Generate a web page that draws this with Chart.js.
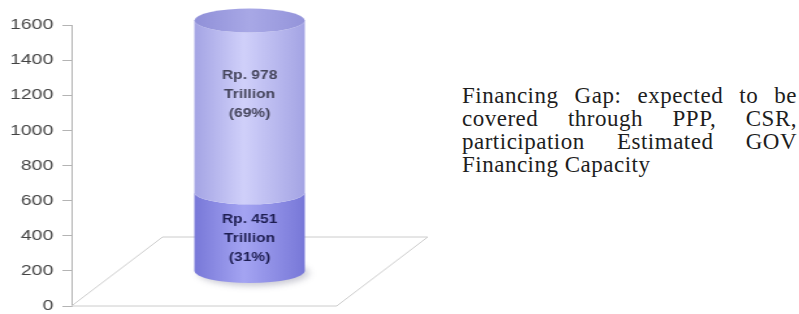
<!DOCTYPE html>
<html>
<head>
<meta charset="utf-8">
<script src="https://cdn.jsdelivr.net/npm/chart.js@4.4.1/dist/chart.umd.min.js"></script>
<style>
  html, body { margin: 0; padding: 0; background: #fff; }
  body { width: 799px; height: 314px; position: relative; overflow: hidden; }
  #wrap { position: absolute; left: 0; top: 0; width: 350px; height: 322px; transform: scaleX(1.3); transform-origin: 0 0; }
  #note { position: absolute; left: 462px; top: 84px; width: 335px; font-family: "Liberation Serif", "Times New Roman", serif; font-size: 23px; line-height: 23px; letter-spacing: 0.5px; color: #1e1e1e; }
  #note span { display: block; text-align: justify; text-align-last: justify; }
  #note span.last { text-align: left; text-align-last: left; }
</style>
</head>
<body>
<div id="wrap"><canvas id="myChart"></canvas></div>
<div id="note">
  <span>Financing Gap: expected to be</span>
  <span>covered through PPP, CSR,</span>
  <span>participation Estimated GOV</span>
  <span class="last">Financing Capacity</span>
</div>
<script>
  // data
  var categories = ['Financing'];
  var govCapacity = [451];
  var financingGap = [978];
  var segmentLabels = [
    ['Rp. 451', 'Trillion', '(31%)'],
    ['Rp. 978', 'Trillion', '(69%)']
  ];
  var yTicks = [0, 200, 400, 600, 800, 1000, 1200, 1400, 1600];

  // look of the cylinder
  var depthX = 70, depthY = 69, ry = 12;
  var edgeColors = ['#7878d8', '#a4a4e4'];
  var lightColors = ['#a4a4f2', '#d0d0fa'];
  var textColors = ['#1e1e52', '#45455c'];
  var labelShift = [7, -12];

  var cylinderPlugin = {
    id: 'cylinder',
    beforeDatasetsDraw: function(chart) {
      var a = chart.chartArea, ctx = chart.ctx;
      ctx.save();
      ctx.strokeStyle = '#cccccc';
      ctx.lineWidth = 1;
      ctx.beginPath();
      ctx.moveTo(a.left, a.bottom);
      ctx.lineTo(a.right, a.bottom);
      ctx.lineTo(a.right + depthX, a.bottom - depthY);
      ctx.lineTo(a.left + depthX, a.bottom - depthY);
      ctx.closePath();
      ctx.stroke();
      ctx.restore();
    },
    afterDatasetsDraw: function(chart) {
      var ctx = chart.ctx;
      var n = chart.data.datasets.length;
      var parts = [];
      for (var i = 0; i < n; i++) {
        var p = chart.getDatasetMeta(i).data[0].getProps(['x', 'y', 'base', 'width'], true);
        parts.push({
          cx: p.x + depthX / 2,
          rx: p.width / 2,
          top: p.y - depthY / 2,
          bot: p.base - depthY / 2
        });
      }
      ctx.save();

      // soft shadow under the base
      var b = parts[0];
      ctx.filter = 'blur(3px)';
      ctx.fillStyle = 'rgba(40,40,80,0.25)';
      ctx.beginPath();
      ctx.ellipse(b.cx + 3, b.bot + 2, b.rx, ry + 1, 0, 0, Math.PI * 2);
      ctx.fill();
      ctx.filter = 'none';

      parts.forEach(function(s, i) {
        var g = ctx.createLinearGradient(s.cx - s.rx, 0, s.cx + s.rx, 0);
        g.addColorStop(0, edgeColors[i]);
        g.addColorStop(0.45, lightColors[i]);
        g.addColorStop(1, edgeColors[i]);
        ctx.fillStyle = g;
        ctx.beginPath();
        ctx.moveTo(s.cx - s.rx, s.top);
        ctx.lineTo(s.cx - s.rx, s.bot);
        ctx.ellipse(s.cx, s.bot, s.rx, ry, 0, Math.PI, 0, true);
        ctx.lineTo(s.cx + s.rx, s.top);
        ctx.ellipse(s.cx, s.top, s.rx, ry, 0, 0, Math.PI, false);
        ctx.closePath();
        ctx.fill();
      });

      // top cap
      var t = parts[n - 1];
      var cg = ctx.createLinearGradient(t.cx - t.rx, 0, t.cx + t.rx, 0);
      cg.addColorStop(0, '#9090d8');
      cg.addColorStop(0.5, '#a8a8e6');
      cg.addColorStop(1, '#9494da');
      ctx.fillStyle = cg;
      ctx.beginPath();
      ctx.ellipse(t.cx, t.top, t.rx, ry, 0, 0, Math.PI * 2);
      ctx.fill();

      // labels inside the cylinder
      ctx.font = 'bold 12px "Liberation Sans", Arial, sans-serif';
      ctx.textAlign = 'center';
      ctx.textBaseline = 'middle';
      parts.forEach(function(s, i) {
        var lines = segmentLabels[i];
        var mid = (s.top + s.bot) / 2 + labelShift[i];
        ctx.fillStyle = textColors[i];
        lines.forEach(function(txt, k) {
          ctx.fillText(txt, s.cx, mid + (k - (lines.length - 1) / 2) * 19);
        });
      });
      ctx.restore();
    }
  };

  var ctx = document.getElementById('myChart');

  new Chart(ctx, {
    type: 'bar',
    data: {
      labels: categories,
      datasets: [{
        label: 'Estimated GOV Financing Capacity',
        data: govCapacity,
        backgroundColor: 'rgba(0,0,0,0)',
        borderWidth: 0,
        barThickness: 85
      }, {
        label: 'Financing Gap',
        data: financingGap,
        backgroundColor: 'rgba(0,0,0,0)',
        borderWidth: 0,
        barThickness: 85
      }]
    },
    options: {
      responsive: true,
      maintainAspectRatio: false,
      animation: false,
      layout: { padding: { top: 25, bottom: 1, left: 0, right: 91 } },
      plugins: { legend: { display: false }, tooltip: { enabled: false } },
      scales: {
        x: { stacked: true, display: false },
        y: {
          stacked: true,
          min: 0,
          max: 1600,
          afterFit: function(scale) { scale.width = 55; },
          afterBuildTicks: function(scale) {
            scale.ticks = yTicks.map(function(v) { return { value: v }; });
          },
          ticks: {
            padding: 7,
            color: '#444',
            font: { family: '"Liberation Sans", Arial, sans-serif', size: 15 },
            callback: function(v) { return String(v); }
          },
          grid: { drawOnChartArea: false, drawTicks: true, tickLength: 7, color: '#b4b4b4' },
          border: { color: '#b4b4b4' }
        }
      }
    },
    plugins: [cylinderPlugin]
  });
</script>
</body>
</html>
